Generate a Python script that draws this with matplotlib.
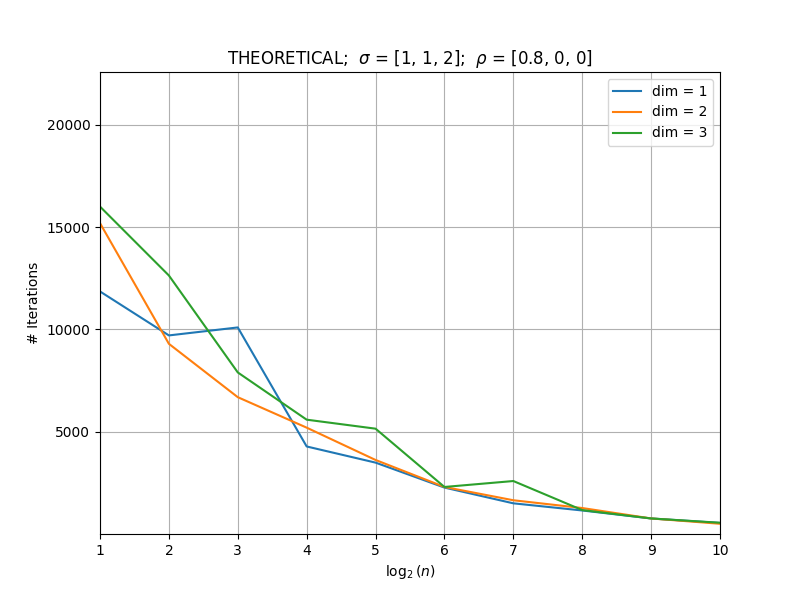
import numpy as np
import matplotlib.pyplot as plt

# log2(n) on the x axis
log_n = np.arange(1, 11)

# iterations per dimension
iters_dim1 = [11860, 9710, 10100, 4280, 3490, 2270, 1500, 1150, 760, 540]
iters_dim2 = [15200, 9300, 6690, 5200, 3620, 2300, 1650, 1270, 760, 500]
iters_dim3 = [16010, 12640, 7900, 5590, 5150, 2300, 2590, 1170, 760, 550]

series = [iters_dim1, iters_dim2, iters_dim3]

plt.figure(figsize=(8, 6), dpi=100)
for d, vals in enumerate(series, start=1):
    plt.plot(log_n, vals, label='dim = %d' % d)

plt.xlim(1, 10)
plt.ylim(0, 22590)
plt.yticks([5000, 10000, 15000, 20000])
plt.xlabel(r'$\log_2(n)$')
plt.ylabel('# Iterations')
plt.title(r'THEORETICAL;  $\sigma$ = [1, 1, 2];  $\rho$ = [0.8, 0, 0]')
plt.grid(True)
plt.legend(loc='upper right')
plt.savefig('out.png')
